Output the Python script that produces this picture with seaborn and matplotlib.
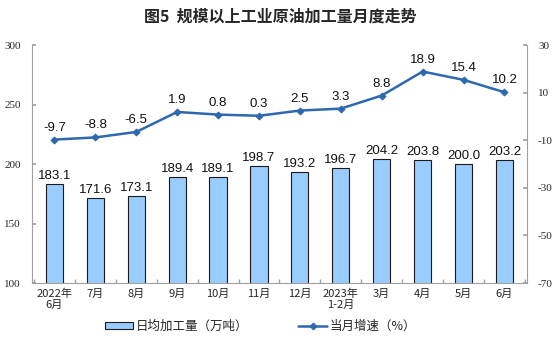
import matplotlib
matplotlib.use("Agg")
import matplotlib.pyplot as plt
import seaborn as sns
import pandas as pd
import numpy as np

months = ["2022年\n6月", "7月", "8月", "9月", "10月", "11月", "12月",
          "2023年\n1-2月", "3月", "4月", "5月", "6月"]
daily_output = [183.1, 171.6, 173.1, 189.4, 189.1, 198.7, 193.2, 196.7, 204.2, 203.8, 200.0, 203.2]
growth = [-9.7, -8.8, -6.5, 1.9, 0.8, 0.3, 2.5, 3.3, 8.8, 18.9, 15.4, 10.2]
left_ticks = [100, 150, 200, 250, 300]
right_ticks = [-70, -50, -30, -10, 10, 30]

df = pd.DataFrame({"month": months, "output": daily_output, "growth": growth})

sns.set_theme(style="white")
plt.rcParams["font.family"] = ["Noto Sans CJK SC", "DejaVu Sans"]
num_font = "Liberation Serif"
lab_font = "Liberation Sans"

bar_color = "#99CCFF"
line_color = "#2E68AE"

fig = plt.figure(figsize=(5.6, 3.61), dpi=100)
ax = fig.add_axes([0.057, 0.216, 0.884, 0.659])

sns.barplot(data=df, x="month", y="output", color=bar_color, width=0.42,
            edgecolor="#1a1a1a", linewidth=0.8, saturation=1, ax=ax,
            label="日均加工量（万吨）")
ax.set_ylim(100, 300)
ax.set_xlim(-0.55, len(months) - 0.45)
ax.set_xlabel("")
ax.set_ylabel("")

for i, v in enumerate(daily_output):
    ax.text(i, v + 1.5, f"{v:.1f}", ha="center", va="bottom",
            fontsize=9.5, family=lab_font, color="#111111")

ax2 = ax.twinx()
x = np.arange(len(months))
sns.lineplot(x=x, y=growth, color=line_color, linewidth=1.8, marker="D",
             markersize=3.5, markeredgecolor=line_color, ax=ax2,
             label="当月增速（%）")
ax2.set_ylim(-70, 30)
ax2.set_xlim(-0.55, len(months) - 0.45)

for i, v in enumerate(growth):
    ax2.text(i, v + 2.5, f"{v:.1f}", ha="center", va="bottom",
             fontsize=9.5, family=lab_font, color="#111111")

for a in (ax, ax2):
    for s in a.spines.values():
        s.set_visible(False)
ax.spines["left"].set_visible(True)
ax.spines["bottom"].set_visible(True)
ax2.spines["right"].set_visible(True)
for s in (ax.spines["left"], ax.spines["bottom"], ax2.spines["right"]):
    s.set_color("#a0a0a0")
    s.set_linewidth(0.8)

ax.set_yticks(left_ticks)
ax.set_yticklabels([str(t) for t in left_ticks], family=num_font, fontsize=8)
ax2.set_yticks(right_ticks)
ax2.set_yticklabels([str(t) for t in right_ticks], family=num_font, fontsize=8)
ax.tick_params(axis="y", direction="in", length=3, color="#a0a0a0", pad=8,
               left=True)
ax2.tick_params(axis="y", direction="in", length=3, color="#a0a0a0", pad=8,
                right=True)
ax.set_xticks(x)
ax.set_xticklabels(months, fontsize=8, linespacing=1.1)
ax.set_xticks(np.arange(len(months) + 1) - 0.5, minor=True)
ax.tick_params(axis="x", which="major", length=0, pad=4)
ax.tick_params(axis="x", which="minor", direction="in", length=3,
               color="#a0a0a0", bottom=True)

if ax.get_legend():
    ax.get_legend().remove()
if ax2.get_legend():
    ax2.get_legend().remove()
h1, l1 = ax.get_legend_handles_labels()
h2, l2 = ax2.get_legend_handles_labels()
fig.legend(h1 + h2, l1 + l2, loc="center", bbox_to_anchor=(0.465, 0.095),
           ncol=2, frameon=False, fontsize=9, columnspacing=4.0,
           handlelength=2.3, handleheight=0.5, handletextpad=0.2)

fig.suptitle("图5  规模以上工业原油加工量月度走势", x=0.5, y=0.975,
             fontsize=11.5, fontweight="bold")

fig.savefig("out.png", dpi=100)
